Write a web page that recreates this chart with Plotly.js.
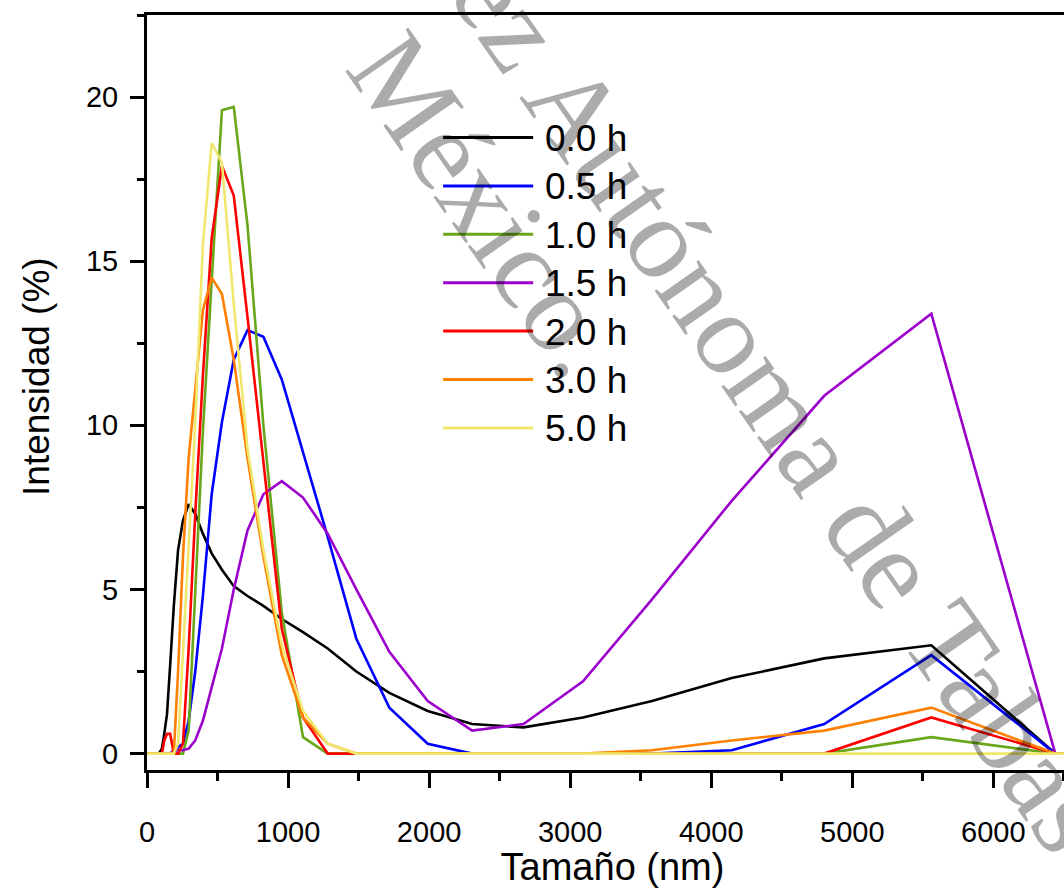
<!DOCTYPE html>
<html><head><meta charset="utf-8">
<script src="https://cdn.plot.ly/plotly-3.0.1.min.js"></script>
<style>html,body{margin:0;padding:0;overflow:hidden;background:#fff}</style>
</head><body><div id="chart"></div>
<script>
const tamano = [0.4, 58.77, 68.06, 78.82, 91.28, 105.7, 122.4, 141.8, 164.2, 190.1, 220.2, 255.0, 295.3, 342.0, 396.1, 458.7, 531.2, 615.1, 712.4, 825.0, 955.4, 1106, 1281, 1484, 1718, 1990, 2305, 2669, 3091, 3580, 4145, 4801, 5560, 6439, 7456];
const h00 = [0,0,0,0,0.05,0.15,0.6,1.2,2.7,4.5,6.2,7.1,7.6,7.3,6.7,6.1,5.6,5.1,4.8,4.5,4.1,3.7,3.2,2.5,1.85,1.3,0.9,0.8,1.1,1.6,2.3,2.9,3.3,0,0];
const h05 = [0,0,0,0,0,0,0,0,0,0,0.2,0.3,1.0,2.5,4.8,7.9,10.1,12.0,12.9,12.7,11.4,9.2,6.6,3.5,1.4,0.3,0,0,0,0,0.1,0.9,3.0,0,0];
const h10 = [0,0,0,0,0,0,0,0,0,0,0,0,0.7,4.8,9.8,14.4,19.6,19.7,16.1,10.0,4.3,0.5,0,0,0,0,0,0,0,0,0,0,0.5,0,0];
const h15 = [0,0,0,0,0,0,0,0,0,0.1,0.1,0.1,0.15,0.4,1.0,2.0,3.2,5.0,6.8,7.9,8.3,7.8,6.7,5.0,3.1,1.6,0.7,0.9,2.2,4.7,7.7,10.9,13.4,0,0];
const h20 = [0,0,0,0,0,0,0.4,0.6,0.6,0,0,0.3,3.2,7.3,11.5,15.7,17.9,17.0,13.3,8.8,3.8,1.1,0,0,0,0,0,0,0,0,0,0,1.1,0,0];
const h30 = [0,0,0,0,0,0,0,0,0,0,2.5,6.0,9.0,11.0,13.5,14.5,14.0,12.0,9.0,6.0,3.0,1.1,0.3,0,0,0,0,0,0,0.1,0.4,0.7,1.4,0,0];
const h50 = [0,0,0,0,0,0,0,0,0,0,0.3,3.0,6.5,10.1,15.5,18.6,18.0,13.7,9.3,6.2,3.3,1.3,0.3,0,0,0,0,0,0,0,0,0,0,0,0];
const seriesNames = ["0.0 h","0.5 h","1.0 h","1.5 h","2.0 h","3.0 h","5.0 h"];
const seriesData = [h00,h05,h10,h15,h20,h30,h50];
const seriesColors = ["#000000","#0000ff","#6aa61a","#9b00cc","#ff0000","#ff8000","#f0e86e"];
const xTitle = "Tamaño (nm)";
const yTitle = "Intensidad (%)";
const watermark1 = "Universidad Juárez Autónoma de Tabasco.";
const watermark2 = "México.";

const W = 1200, H = 888;
const L = 147, T = 15, XMAX = 6600, PW = 930.6, PH = 755;
const px2x = p => (p - L) / PW;
const py2y = p => (T + PH - p) / PH;
const SANS = "Liberation Sans, Arial, sans-serif";

const traces = seriesData.map((d, i) => ({
  x: tamano, y: d, type: "scatter", mode: "lines", name: seriesNames[i],
  line: {color: seriesColors[i], width: 2.6}, showlegend: false
}));

const shapes = [], annotations = [];
seriesNames.forEach((n, i) => {
  const yy = 137.5 + 48.4 * i;
  shapes.push({type: "line", xref: "paper", yref: "paper",
    x0: px2x(443), x1: px2x(533), y0: py2y(yy), y1: py2y(yy),
    line: {color: seriesColors[i], width: 3}});
  annotations.push({xref: "paper", yref: "paper", x: px2x(543), y: py2y(yy + 1),
    xanchor: "left", yanchor: "middle", showarrow: false, text: n,
    font: {family: SANS, size: 37, color: "#000"}});
});
annotations.push({xref: "paper", yref: "paper", x: px2x(36), y: py2y(376), xanchor: "center", yanchor: "middle",
  showarrow: false, text: yTitle, textangle: -90, font: {family: SANS, size: 37, color: "#000"}});
const wmFont = {family: "Liberation Serif, Times New Roman, serif", size: 117, color: "rgba(0,0,0,0.33)"};
annotations.push({xref: "paper", yref: "paper", x: px2x(594), y: py2y(135), xanchor: "center", yanchor: "middle",
  showarrow: false, text: watermark1, textangle: 55, font: wmFont});
annotations.push({xref: "paper", yref: "paper", x: px2x(487), y: py2y(204), xanchor: "center", yanchor: "middle",
  showarrow: false, text: watermark2, textangle: 55, font: wmFont});

const axBase = {showline: true, linewidth: 3, linecolor: "#000", mirror: true, showgrid: false, zeroline: false,
  ticks: "outside", tickwidth: 3, tickcolor: "#000", tickfont: {family: SANS, size: 29, color: "#000"}};

const layout = {
  width: W, height: H,
  margin: {l: L, r: W - L - PW, t: T, b: H - T - PH, pad: 0},
  paper_bgcolor: "#fff", plot_bgcolor: "#fff",
  xaxis: Object.assign({}, axBase, {range: [0, XMAX], tick0: 0, dtick: 1000, ticklen: 15,
    ticklabelstandoff: 19,
    minor: {dtick: 500, ticks: "outside", ticklen: 8, tickwidth: 3, tickcolor: "#000"},
    title: {text: xTitle, font: {family: SANS, size: 38, color: "#000"}, standoff: 7}}),
  yaxis: Object.assign({}, axBase, {range: [-0.5, 22.5], tick0: 0, dtick: 5, ticklen: 14,
    ticklabelstandoff: 6,
    minor: {dtick: 2.5, ticks: "outside", ticklen: 7, tickwidth: 3, tickcolor: "#000"}}),
  shapes: shapes, annotations: annotations, showlegend: false
};
Plotly.newPlot("chart", traces, layout, {displayModeBar: false, staticPlot: true});
</script></body></html>
